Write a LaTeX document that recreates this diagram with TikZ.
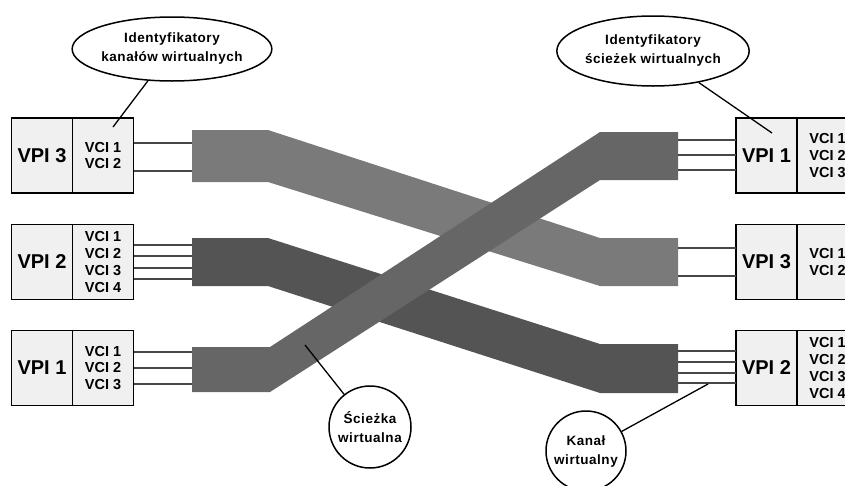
\documentclass[tikz,border=0pt]{standalone}
\usepackage{fontspec}
\setmainfont{Liberation Sans}
\newfontfamily\labelfont{Liberation Sans}[LetterSpace=4]
\usepackage{tikz}
\usetikzlibrary{positioning,shapes.geometric}
\definecolor{pathlight}{gray}{0.48}
\definecolor{pathdark}{gray}{0.33}
\definecolor{pathmid}{gray}{0.40}
\tikzset{
    vpi/.style={
        draw,
        line width=1.5pt,
        fill=black!6,
        minimum width=61pt,
        minimum height=75pt,
        inner sep=0pt,
        outer sep=0pt,
        font=\fontsize{20}{24}\selectfont\bfseries
    },
    vci/.style={
        draw,
        line width=1.5pt,
        fill=black!6,
        minimum width=61pt,
        minimum height=75pt,
        inner sep=0pt,
        outer sep=0pt,
        align=left,
        font=\fontsize{14.5}{16.8}\selectfont\bfseries
    },
    wire/.style={line width=2pt, draw=black!72},
    pointer/.style={line width=1.3pt, draw=black},
    callout/.style={
        draw,
        line width=1.5pt,
        fill=white,
        inner sep=0pt,
        align=center,
        font=\labelfont\fontsize{13.5}{19}\selectfont\bfseries
    }
}

\begin{document}
\begin{tikzpicture}[x=1pt,y=-1pt]
    \clip (0,0) rectangle (845,485);

    % virtual paths
    \fill[pathlight] (192,130) -- (268,130) -- (600,238) -- (678,238) -- (678,286) -- (600,286) -- (268,182) -- (192,182) -- cycle;
    \fill[pathdark] (192,238) -- (268,238) -- (600,344) -- (678,344) -- (678,393) -- (600,393) -- (268,286) -- (192,286) -- cycle;
    \fill[pathmid] (192,347) -- (270,347) -- (600,132) -- (678,132) -- (678,180) -- (600,180) -- (270,392) -- (192,392) -- cycle;
    \coordinate (inA) at (192,156);
    \coordinate (inB) at (192,262);
    \coordinate (inC) at (192,370);
    \coordinate (outC) at (678,156);
    \coordinate (outA) at (678,262);
    \coordinate (outB) at (678,368);

    % left side
    \node[vpi] (vpiL3) at (42,155.5) {VPI 3};
    \node[vci, right=0pt of vpiL3] (vciL3) {VCI 1\\VCI 2};
    \node[vpi] (vpiL2) at (42,262) {VPI 2};
    \node[vci, right=0pt of vpiL2] (vciL2) {VCI 1\\VCI 2\\VCI 3\\VCI 4};
    \node[vpi] (vpiL1) at (42,368) {VPI 1};
    \node[vci, right=0pt of vpiL1] (vciL1) {VCI 1\\VCI 2\\VCI 3};

    % right side
    \node[vpi] (vpiR1) at (766.5,155.5) {VPI 1};
    \node[vci, right=0pt of vpiR1] (vciR1) {VCI 1\\VCI 2\\VCI 3};
    \node[vpi] (vpiR3) at (766.5,262) {VPI 3};
    \node[vci, right=0pt of vpiR3] (vciR3) {VCI 1\\VCI 2};
    \node[vpi] (vpiR2) at (766.5,368) {VPI 2};
    \node[vci, right=0pt of vpiR2] (vciR2) {VCI 1\\VCI 2\\VCI 3\\VCI 4};

    % virtual channels
    \foreach \y in {143,171}
        \draw[wire] (vciL3.east |- 0,\y) -- (inA |- 0,\y);
    \foreach \y in {245,256,268,279}
        \draw[wire] (vciL2.east |- 0,\y) -- (inB |- 0,\y);
    \foreach \y in {352,368,384}
        \draw[wire] (vciL1.east |- 0,\y) -- (inC |- 0,\y);
    \foreach \y in {140,155,170}
        \draw[wire] (outC |- 0,\y) -- (vpiR1.west |- 0,\y);
    \foreach \y in {248,276}
        \draw[wire] (outA |- 0,\y) -- (vpiR3.west |- 0,\y);
    \foreach \y in {351,362,373,383}
        \draw[wire] (outB |- 0,\y) -- (vpiR2.west |- 0,\y);

    % callouts
    \coordinate (ptVCI) at (113,127);
    \coordinate (ptVPI) at (772,133);
    \coordinate (ptPath) at (305,345);
    \coordinate (ptChan) at (708,384);
    \node[callout, ellipse, minimum width=189pt, minimum height=64pt] (idVCI) at (172,49) {Identyfikatory\\kanałów wirtualnych};
    \node[callout, ellipse, minimum width=183pt, minimum height=70pt] (idVPI) at (653,51) {Identyfikatory\\ścieżek wirtualnych};
    \node[callout, circle, minimum size=82pt] (vPath) at (370,427) {Ścieżka\\wirtualna};
    \node[callout, circle, minimum size=80pt] (vChan) at (586,451) {Kanał\\wirtualny};
    \draw[pointer] (idVCI) -- (ptVCI);
    \draw[pointer] (idVPI) -- (ptVPI);
    \draw[pointer] (vPath) -- (ptPath);
    \draw[pointer] (vChan) -- (ptChan);
\end{tikzpicture}
\end{document}
